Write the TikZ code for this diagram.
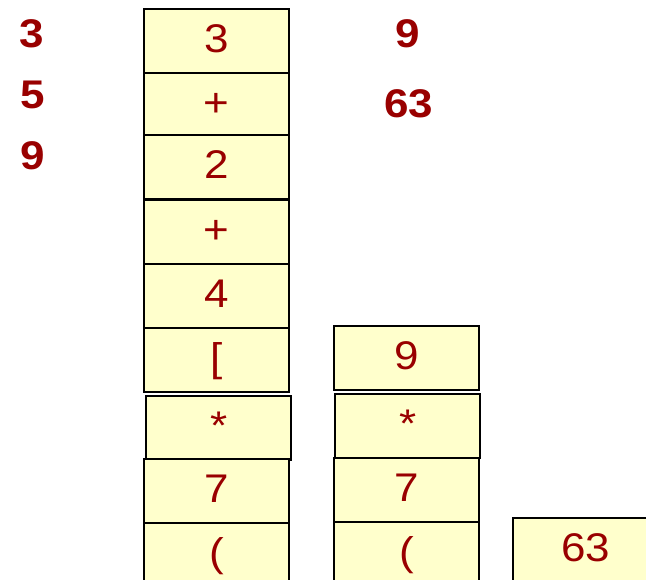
\documentclass[tikz,border=0pt]{standalone}
\usepackage{fontspec}
\setmainfont{Liberation Sans}
\newfontfamily\cellfont[FakeStretch=1.1]{Liberation Sans}
\newfontfamily\valfont[FakeStretch=1.1]{Liberation Sans Bold}
\definecolor{cellfill}{HTML}{FFFFCC}
\definecolor{darkred}{HTML}{990000}
\tikzset{
  cell/.style={draw=black,line width=2.2pt,fill=cellfill,text=darkred,
    minimum width=145pt,minimum height=64pt,inner sep=0pt,anchor=north west,
    text height=30pt,text depth=8pt,
    font=\cellfont\fontsize{40}{44}\selectfont},
  val/.style={text=darkred,inner sep=0pt,font=\valfont\fontsize{40}{44}\selectfont}
}
\begin{document}
\begin{tikzpicture}[x=1pt,y=-1pt]
    \clip (0,0) rectangle (646,579);
    % first stack
    \foreach \x/\y/\t [count=\i] in {143/8/3,143/72/+,143/134/2,143/199/+,143/263/4,143/327/[,145/395/*,143/458/7,143/522/(}{
      \node[cell] (in\i) at (\x,\y) {\t};
    }
    % second stack
    \foreach \x/\y/\t [count=\i] in {333/325/9,334/393/*,333/457/7,333/521/(}{
      \node[cell] (st\i) at (\x,\y) {\t};
    }
    \node[cell] (res) at (512,517) {63};
    % values
    \node[val] (v3) at (32,34) {3};
    \node[val] (v5) at (33,95) {5};
    \node[val] (v9) at (33,156) {9};
    \node[val] (r9) at (408,34) {9};
    \node[val] (r63) at (409,104) {63};
\end{tikzpicture}
\end{document}
